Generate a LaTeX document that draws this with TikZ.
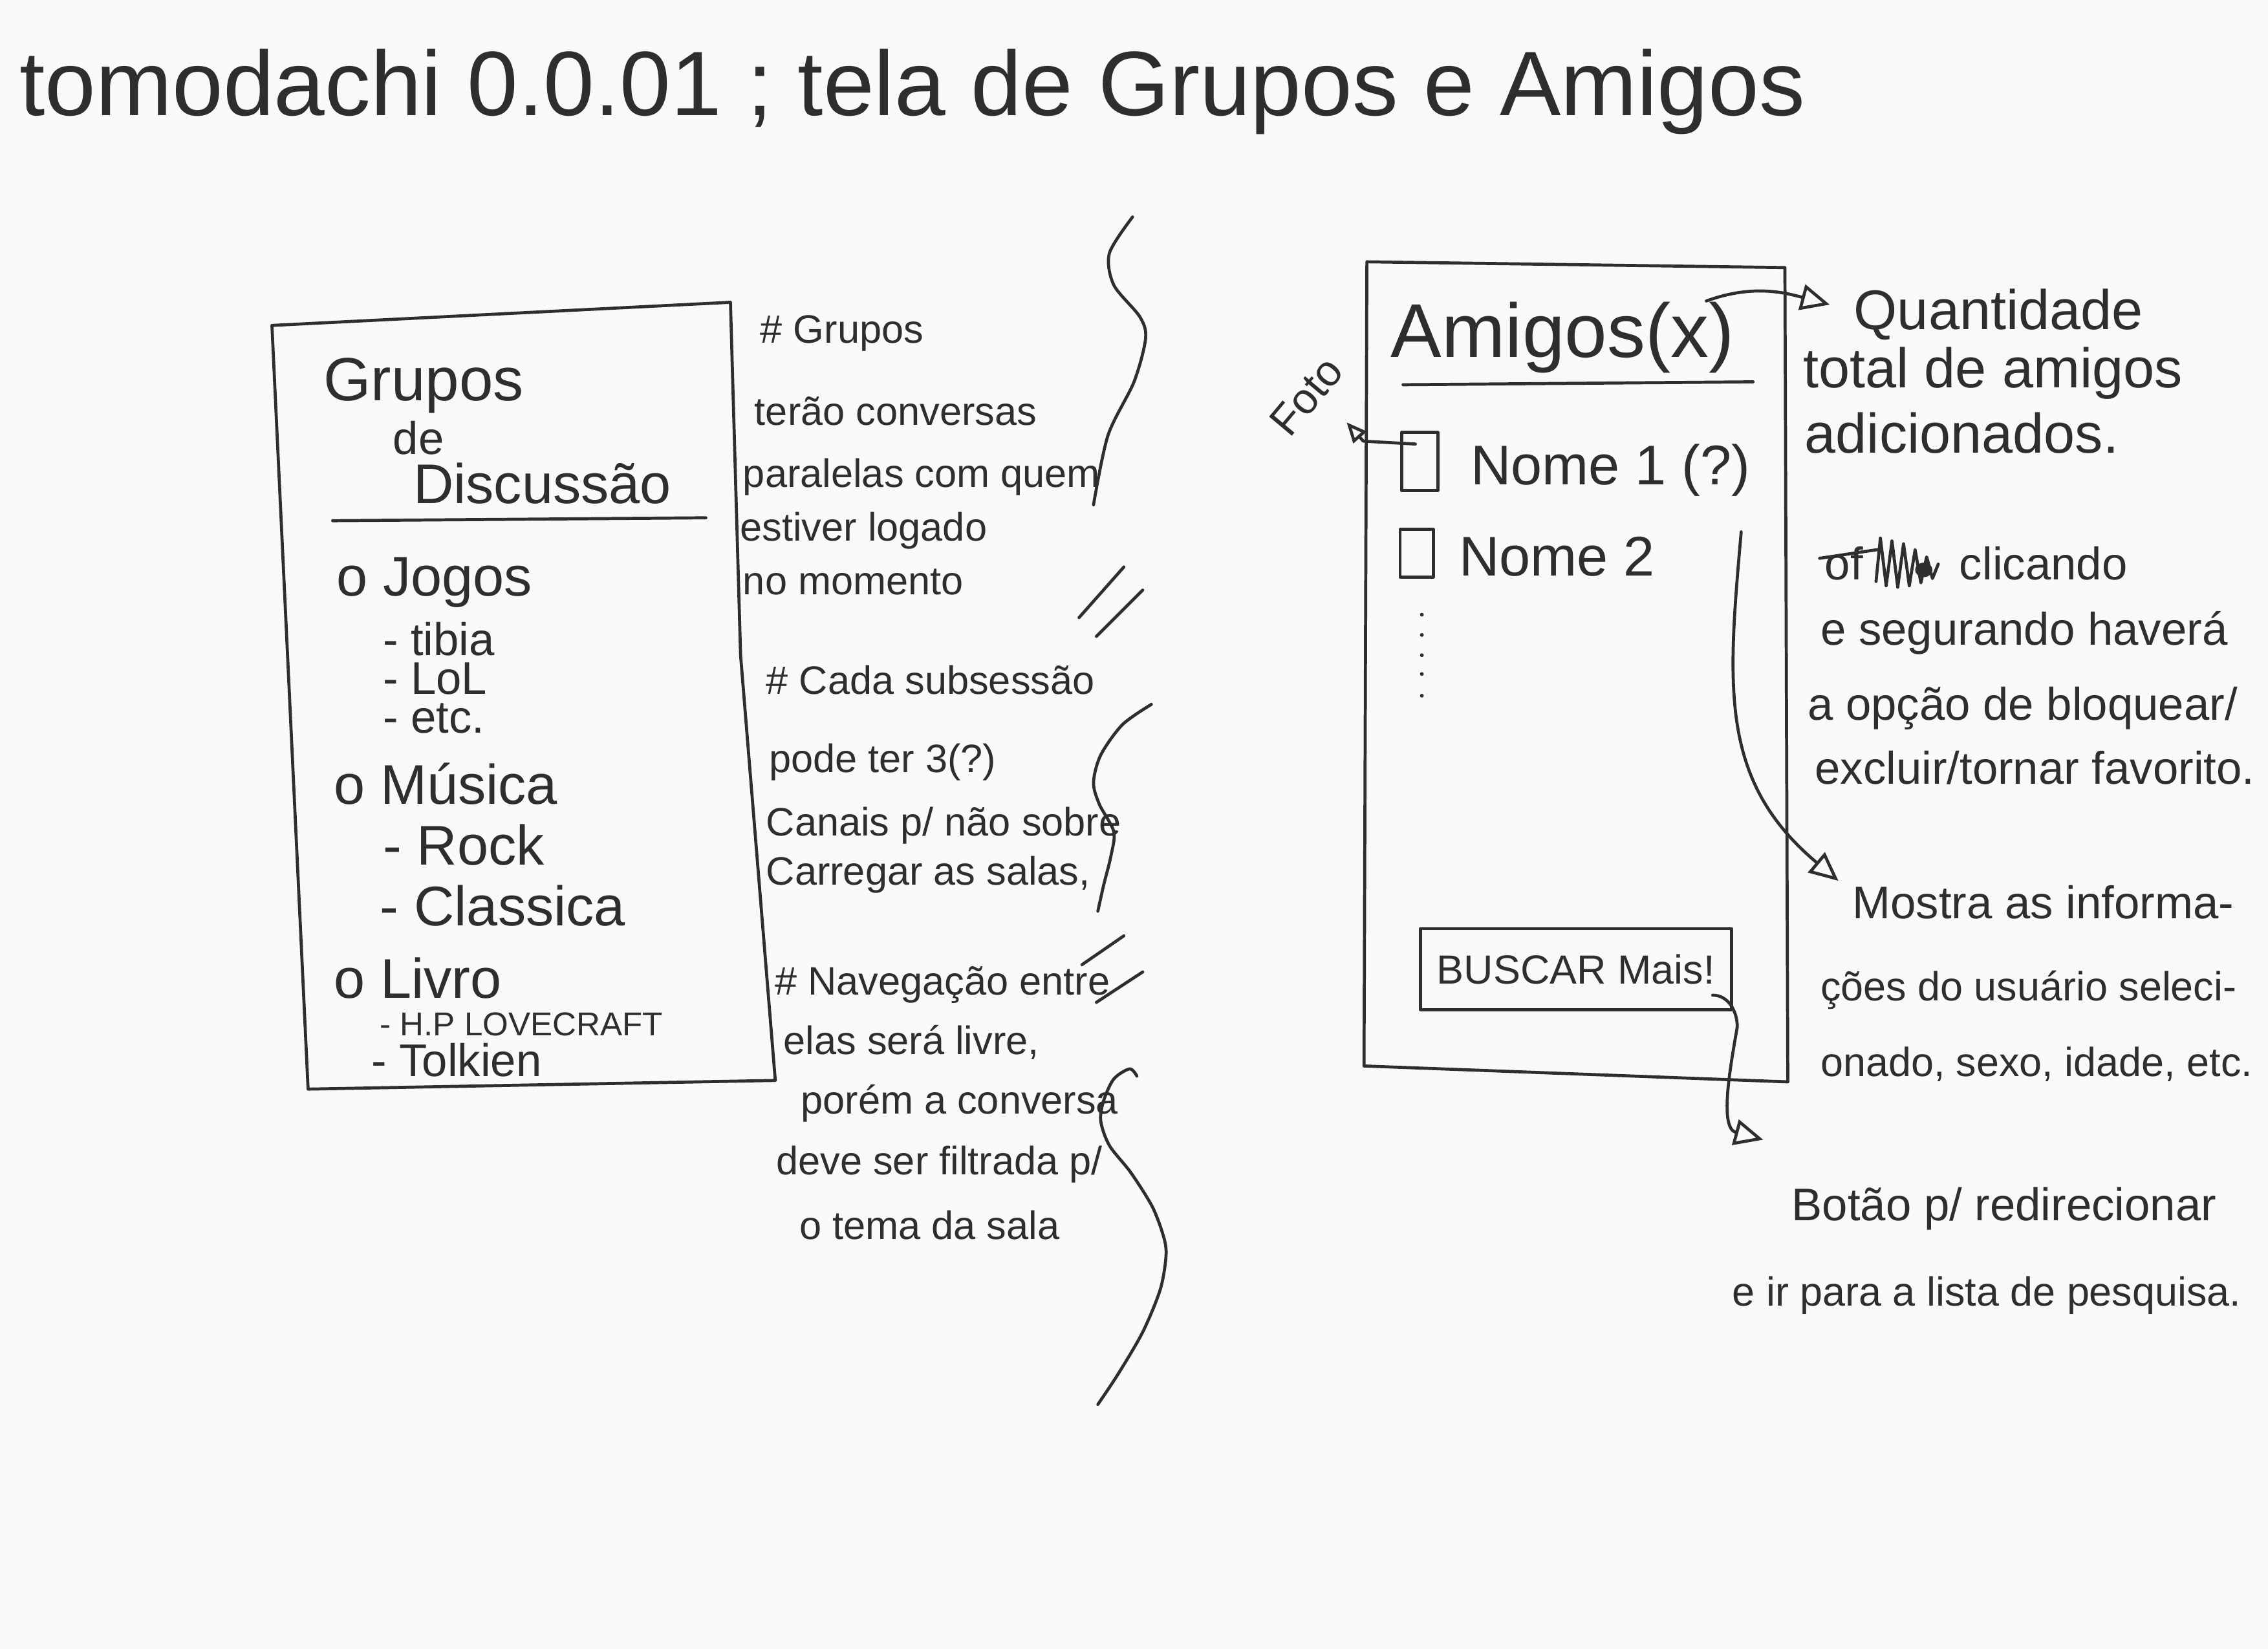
\documentclass[tikz,border=0pt]{standalone}
\usepackage{fontspec}
\setmainfont{Liberation Sans}
\usetikzlibrary{arrows.meta}
\definecolor{ink}{HTML}{2E2E2E}
\definecolor{paper}{HTML}{F9F9F9}

\begin{document}
\begin{tikzpicture}[
  pen/.style={draw=ink, line width=0.6pt, line cap=round, line join=round},
  txt/.style={text=ink, inner sep=0pt, anchor=base west},
  ttl/.style={txt, font=\fontsize{18}{20}\selectfont},
  grphead/.style={txt, font=\fontsize{12}{14}\selectfont},
  grpsmall/.style={txt, font=\fontsize{9}{11}\selectfont},
  grpitem/.style={txt, font=\fontsize{11}{13}\selectfont},
  grpsub/.style={txt, font=\fontsize{9}{11}\selectfont},
  grpcaps/.style={txt, font=\fontsize{6.5}{8}\selectfont},
  midnote/.style={txt, font=\fontsize{7.8}{9}\selectfont},
  rnote/.style={txt, font=\fontsize{11}{13}\selectfont},
  rnotesm/.style={txt, font=\fontsize{9}{11}\selectfont},
  rnotexs/.style={txt, font=\fontsize{8}{10}\selectfont},
  amg/.style={txt, font=\fontsize{15}{17}\selectfont},
  nm/.style={txt, font=\fontsize{11}{13}\selectfont},
  checkbox/.style={pen, inner sep=0pt},
  btnbox/.style={pen, text=ink, inner sep=0pt, minimum width=2.15cm, minimum height=0.56cm, font=\fontsize{8}{10}\selectfont},
  arr/.style={pen, -{Triangle[open, length=2mm, width=1.8mm]}},
  arrsmall/.style={pen, -{Triangle[open, length=1.4mm, width=1.2mm]}},
]

\fill[paper] (0,0) rectangle (15.68,-11.40);
\useasboundingbox (0,0) rectangle (15.68,-11.40);

\node[ttl] (title) at (0.13,-0.80) {tomodachi 0.0.01 ; tela de Grupos e Amigos};

\draw[pen] (1.88,-2.25) -- (5.05,-2.09) -- (5.12,-4.53) -- (5.36,-7.47) -- (2.13,-7.53) -- cycle;
\node[grphead] (grupos) at (2.23,-2.77) {Grupos};
\node[grpsmall] (de) at (2.71,-3.14) {de};
\node[grpitem] (discussao) at (2.85,-3.48) {Discussão};
\draw[pen] (2.30,-3.60) -- (4.88,-3.58);

\node[grpitem] (jogos) at (2.32,-4.12) {o Jogos};
\node[grpsub] (tibia) at (2.64,-4.53) {- tibia};
\node[grpsub] (lol) at (2.64,-4.80) {- LoL};
\node[grpsub] (etc) at (2.64,-5.07) {- etc.};
\node[grpitem] (musica) at (2.30,-5.56) {o Música};
\node[grpitem] (rock) at (2.64,-5.98) {- Rock};
\node[grpitem] (classica) at (2.62,-6.40) {- Classica};
\node[grpitem] (livro) at (2.30,-6.90) {o Livro};
\node[grpcaps] (lovecraft) at (2.62,-7.16) {- H.P LOVECRAFT};
\node[grpsub] (tolkien) at (2.56,-7.44) {- Tolkien};

\node[midnote] (m1) at (5.25,-2.37) {\# Grupos};
\node[midnote] (m2) at (5.21,-2.94) {terão conversas};
\node[midnote] (m3) at (5.13,-3.37) {paralelas com quem};
\node[midnote] (m4) at (5.11,-3.74) {estiver logado};
\node[midnote] (m5) at (5.13,-4.11) {no momento};
\node[midnote] (m6) at (5.29,-4.80) {\# Cada subsessão};
\node[midnote] (m7) at (5.31,-5.34) {pode ter 3(?)};
\node[midnote] (m8) at (5.29,-5.78) {Canais p/ não sobre};
\node[midnote] (m9) at (5.29,-6.12) {Carregar as salas,};
\node[midnote] (m10) at (5.35,-6.88) {\# Navegação entre};
\node[midnote] (m11) at (5.41,-7.29) {elas será livre,};
\node[midnote] (m12) at (5.53,-7.70) {porém a conversa};
\node[midnote] (m13) at (5.36,-8.12) {deve ser filtrada p/};
\node[midnote] (m14) at (5.52,-8.57) {o tema da sala};

\draw[pen] plot[smooth] coordinates {(7.83,-1.50) (7.67,-1.75) (7.70,-1.97) (7.88,-2.19) (7.92,-2.34) (7.84,-2.64) (7.66,-3.01) (7.56,-3.49)};
\draw[pen] (7.46,-4.27) -- (7.77,-3.92);
\draw[pen] (7.58,-4.40) -- (7.90,-4.08);
\draw[pen] plot[smooth] coordinates {(7.96,-4.87) (7.76,-5.01) (7.61,-5.22) (7.56,-5.41) (7.60,-5.56) (7.70,-5.75) (7.68,-5.92) (7.63,-6.12) (7.59,-6.30)};
\draw[pen] (7.48,-6.67) -- (7.77,-6.47);
\draw[pen] (7.58,-6.93) -- (7.90,-6.72);
\draw[pen] plot[smooth] coordinates {(7.86,-7.44) (7.81,-7.39) (7.70,-7.46) (7.63,-7.61) (7.61,-7.75) (7.67,-7.92) (7.82,-8.11) (7.97,-8.35) (8.05,-8.57) (8.06,-8.70) (8.02,-8.92) (7.90,-9.21) (7.73,-9.50) (7.59,-9.71)};

\draw[pen] (9.45,-1.81) -- (12.34,-1.85) -- (12.36,-7.48) -- (9.43,-7.37) -- cycle;
\node[amg] (amigos) at (9.61,-2.47) {Amigos(x)};
\draw[pen] (9.70,-2.66) -- (12.12,-2.64);
\node[checkbox, minimum width=0.25cm, minimum height=0.40cm] (cb1) at (9.815,-3.19) {};
\node[nm] (nome1) at (10.16,-3.35) {Nome 1 (?)};
\node[checkbox, minimum width=0.23cm, minimum height=0.33cm] (cb2) at (9.795,-3.825) {};
\node[nm] (nome2) at (10.08,-3.98) {Nome 2};
\foreach \y in {4.25,4.39,4.53,4.66,4.81}
  \fill[ink] (9.83,-\y) circle (0.013);
\node[btnbox] (btn) at (10.895,-6.70) {BUSCAR Mais!};

\node[txt, anchor=center, rotate=50, font=\fontsize{8.5}{10}\selectfont] (foto) at (9.03,-2.74) {Foto};
\coordinate (fotoend) at (9.31,-2.92);
\draw[arrsmall] ([shift={(-0.03,0.12)}]cb1.center) -- ++(-0.36,0.02) -- (fotoend);

\node[rnote] (quant) at (12.81,-2.28) {Quantidade};
\node[rnote] (total) at (12.46,-2.68) {total de amigos};
\node[rnote] (adic) at (12.47,-3.13) {adicionados.};
\draw[arr] ([xshift=-0.20cm]amigos.north east) to[out=20,in=165] ([shift={(-0.16,0.07)}]quant.west);

\node[rnotesm] (riscado) at (12.61,-4.01) {of};
\draw[pen] (12.58,-3.86) -- (12.98,-3.80);
\draw[pen] plot coordinates {(12.97,-4.02) (13.00,-3.72) (13.04,-4.05) (13.08,-3.74) (13.12,-4.06) (13.16,-3.76) (13.20,-4.05) (13.24,-3.80) (13.28,-4.03) (13.32,-3.85) (13.36,-4.00) (13.40,-3.90)};
\fill[ink] (13.30,-3.94) ellipse (0.06 and 0.05);
\node[rnotesm] (clic) at (13.54,-4.01) {clicando};
\node[rnotesm] (segur) at (12.58,-4.46) {e segurando haverá};
\node[rnotesm] (opcao) at (12.49,-4.98) {a opção de bloquear/};
\node[rnotesm] (excl) at (12.54,-5.42) {excluir/tornar favorito.};

\node[rnotesm] (mostra) at (12.80,-6.35) {Mostra as informa-};
\node[rnotexs] (coes) at (12.58,-6.92) {ções do usuário seleci-};
\node[rnotexs] (onado) at (12.58,-7.44) {onado, sexo, idade, etc.};
\draw[arr] ([shift={(-0.07,-0.24)}]nome1.south east) to[out=-95,in=140,looseness=1.1] ([shift={(-0.09,0.26)}]mostra.base west);

\node[rnotesm] (botao) at (12.38,-8.44) {Botão p/ redirecionar};
\node[rnotexs] (irpara) at (11.97,-9.03) {e ir para a lista de pesquisa.};
\draw[arr] ([shift={(-0.14,0.11)}]btn.south east) to[out=0,in=90] ++(0.17,-0.22) to[out=-100,in=165] ([shift={(-0.19,0.56)}]botao.base west);

\end{tikzpicture}
\end{document}
